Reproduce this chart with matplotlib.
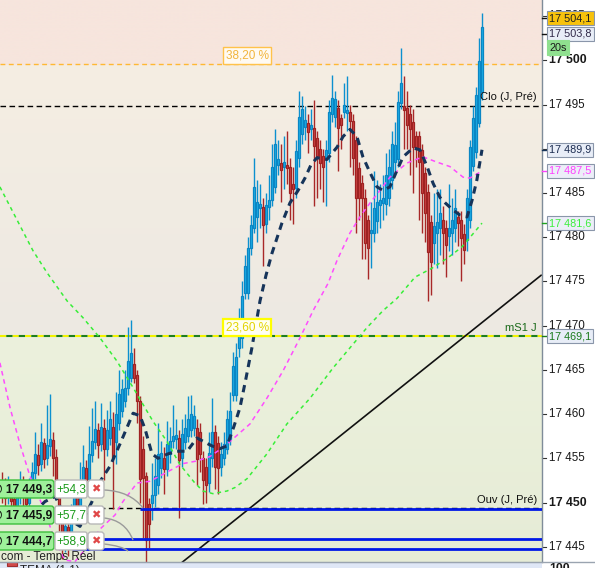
import numpy as np
import matplotlib
matplotlib.use("Agg")
import matplotlib.pyplot as plt
import matplotlib.transforms as mtransforms
from matplotlib.patches import FancyBboxPatch, Rectangle, PathPatch
from matplotlib.path import Path

plt.rcParams['font.family'] = ['Liberation Sans', 'DejaVu Sans']

# ---- candles (20s bars), index 0..160 ----
opens = [
    17452.4, 17451.8, 17450.6, 17451.9, 17450.4, 17449.1, 17450.7, 17452.1, 17451.0, 17449.9,
    17451.5, 17453.3, 17455.4, 17454.3, 17456.7, 17455.0, 17456.4, 17457.1, 17455.1, 17451.9,
    17448.1, 17445.3, 17447.2, 17445.7, 17448.5, 17450.8, 17449.6, 17452.3, 17453.9, 17452.7,
    17455.4, 17456.9, 17458.2, 17456.6, 17458.4, 17456.1, 17457.3, 17458.5, 17456.9, 17459.0,
    17460.3, 17461.5, 17463.0, 17464.1, 17465.7, 17464.4, 17461.5, 17456.0, 17453.0, 17449.8,
    17449.9, 17450.8, 17452.0, 17453.9, 17455.0, 17453.8, 17455.5, 17457.0, 17457.2, 17457.3,
    17455.0, 17456.9, 17457.5, 17458.2, 17458.4, 17458.4, 17458.0, 17455.0, 17454.0, 17452.2,
    17455.0, 17458.0, 17456.7, 17454.0, 17455.0, 17456.1, 17457.2, 17462.2, 17462.2, 17467.5,
    17468.6, 17473.7, 17473.7, 17478.8, 17481.1, 17482.3, 17483.3, 17483.4, 17481.5, 17483.4,
    17484.2, 17485.7, 17488.2, 17488.4, 17487.9, 17488.2, 17487.9, 17486.0, 17485.6, 17489.0,
    17491.7, 17492.5, 17492.9, 17492.2, 17492.4, 17491.2, 17490.0, 17489.2, 17489.0, 17489.5,
    17493.9, 17493.6, 17494.6, 17493.5, 17494.2, 17494.1, 17494.2, 17493.1, 17491.0, 17487.8,
    17486.1, 17484.5, 17481.9, 17480.5, 17480.5, 17481.8, 17483.7, 17483.9, 17483.8, 17484.4,
    17486.5, 17488.5, 17488.8, 17495.2, 17494.8, 17494.6, 17493.9, 17493.0, 17491.4, 17491.4,
    17489.9, 17487.3, 17485.1, 17481.7, 17479.4, 17480.5, 17481.0, 17481.9, 17481.1, 17480.2,
    17480.5, 17481.1, 17482.3, 17481.9, 17480.4, 17479.7, 17481.9, 17488.1, 17489.7, 17492.9,
    17496.4]
highs = [
    17453.5, 17452.8, 17453.0, 17452.5, 17451.2, 17452.0, 17453.6, 17453.0, 17451.9, 17452.8,
    17454.6, 17458.0, 17456.6, 17459.0, 17457.3, 17461.0, 17462.3, 17458.0, 17456.0, 17452.6,
    17449.0, 17448.3, 17448.0, 17449.8, 17452.2, 17451.6, 17454.6, 17456.5, 17454.8, 17458.6,
    17460.7, 17461.5, 17459.0, 17461.3, 17459.5, 17460.5, 17461.5, 17460.2, 17462.5, 17465.0,
    17464.0, 17465.0, 17469.8, 17470.6, 17467.5, 17465.0, 17462.0, 17457.5, 17453.5, 17450.5,
    17454.5, 17455.0, 17459.0, 17457.0, 17456.3, 17459.2, 17458.5, 17461.0, 17459.5, 17458.2,
    17459.5, 17460.0, 17462.0, 17462.2, 17461.0, 17459.5, 17459.0, 17455.8, 17455.0, 17458.0,
    17461.8, 17458.8, 17457.5, 17456.8, 17458.0, 17460.5, 17462.5, 17467.0, 17468.0, 17472.0,
    17475.0, 17478.0, 17480.0, 17482.5, 17489.0, 17486.5, 17486.0, 17484.5, 17485.0, 17487.0,
    17490.5, 17492.2, 17491.0, 17490.5, 17491.5, 17492.0, 17489.0, 17488.0, 17491.0, 17496.5,
    17496.0, 17494.8, 17494.0, 17494.5, 17495.5, 17492.0, 17491.0, 17490.0, 17491.0, 17495.5,
    17498.4, 17496.5, 17495.5, 17494.0, 17497.4, 17498.2, 17495.0, 17494.0, 17491.5, 17488.5,
    17487.0, 17485.5, 17482.5, 17484.0, 17487.5, 17486.5, 17486.0, 17487.0, 17489.5, 17490.0,
    17492.0, 17493.0, 17496.5, 17501.4, 17498.2, 17496.5, 17495.0, 17494.5, 17492.0, 17492.0,
    17490.5, 17488.0, 17486.0, 17482.5, 17485.0, 17485.5, 17485.5, 17483.5, 17482.0, 17486.0,
    17484.5, 17485.5, 17483.0, 17483.0, 17481.5, 17485.5, 17491.0, 17494.8, 17497.0, 17502.5,
    17505.4]
lows = [
    17450.0, 17449.2, 17449.8, 17448.9, 17447.8, 17448.2, 17449.8, 17449.5, 17448.3, 17449.0,
    17450.8, 17452.7, 17453.1, 17453.6, 17453.9, 17454.2, 17455.3, 17453.0, 17450.5, 17446.8,
    17443.6, 17444.4, 17444.0, 17445.0, 17447.7, 17448.0, 17449.0, 17451.4, 17451.0, 17452.0,
    17454.6, 17456.0, 17455.0, 17455.8, 17452.5, 17455.3, 17456.5, 17449.3, 17454.3, 17458.2,
    17459.7, 17460.8, 17462.2, 17463.6, 17463.5, 17459.0, 17450.0, 17446.0, 17443.3, 17444.8,
    17448.0, 17449.5, 17451.0, 17452.8, 17451.0, 17453.0, 17454.5, 17456.2, 17456.0, 17448.2,
    17454.0, 17456.0, 17456.8, 17457.4, 17457.5, 17452.0, 17453.5, 17449.8, 17450.0, 17451.2,
    17454.0, 17451.5, 17451.0, 17453.0, 17454.2, 17455.5, 17456.5, 17461.5, 17461.5, 17466.5,
    17467.5, 17473.0, 17473.0, 17478.0, 17480.5, 17479.5, 17481.0, 17476.8, 17480.5, 17482.0,
    17483.5, 17485.0, 17487.0, 17484.0, 17485.5, 17486.0, 17482.0, 17481.5, 17484.5, 17488.0,
    17490.5, 17491.0, 17489.5, 17491.0, 17483.5, 17484.5, 17485.5, 17484.0, 17483.5, 17488.5,
    17493.0, 17492.5, 17487.5, 17490.0, 17493.5, 17492.0, 17488.0, 17487.0, 17480.5, 17482.0,
    17477.5, 17477.5, 17475.3, 17476.5, 17479.5, 17480.5, 17481.1, 17482.0, 17482.5, 17483.5,
    17485.5, 17487.5, 17488.0, 17494.5, 17490.0, 17490.0, 17487.0, 17485.0, 17488.0, 17482.0,
    17480.5, 17479.5, 17472.8, 17473.5, 17477.0, 17476.5, 17478.0, 17477.0, 17475.5, 17478.5,
    17478.0, 17479.5, 17479.0, 17475.1, 17477.0, 17478.5, 17481.0, 17487.5, 17489.0, 17492.5,
    17495.5]
closes = [
    17451.5, 17450.5, 17451.9, 17450.2, 17449.0, 17450.8, 17452.2, 17450.9, 17449.8, 17451.6,
    17453.4, 17455.5, 17454.2, 17456.8, 17454.9, 17456.5, 17457.2, 17455.0, 17451.8, 17448.0,
    17445.2, 17447.3, 17445.6, 17448.6, 17450.9, 17449.5, 17452.4, 17454.0, 17452.6, 17455.5,
    17457.0, 17458.3, 17456.5, 17458.5, 17456.0, 17458.2, 17459.5, 17455.0, 17460.0, 17462.3,
    17462.8, 17463.0, 17466.0, 17466.9, 17464.1, 17461.5, 17452.7, 17452.8, 17445.8, 17447.6,
    17450.8, 17453.0, 17455.5, 17455.6, 17453.8, 17456.6, 17457.0, 17457.5, 17457.6, 17454.8,
    17457.8, 17458.4, 17459.5, 17460.0, 17459.8, 17454.9, 17455.5, 17452.5, 17452.0, 17455.6,
    17458.0, 17454.0, 17453.9, 17455.5, 17456.6, 17459.4, 17460.3, 17465.4, 17466.5, 17470.6,
    17473.4, 17476.8, 17478.8, 17481.4, 17485.7, 17484.0, 17483.8, 17481.4, 17483.6, 17484.2,
    17488.0, 17490.5, 17488.8, 17487.6, 17488.5, 17487.8, 17485.0, 17485.5, 17489.8, 17493.6,
    17494.5, 17493.3, 17491.9, 17492.7, 17490.3, 17489.2, 17488.4, 17487.9, 17489.9, 17494.2,
    17495.8, 17495.6, 17492.4, 17492.7, 17495.0, 17494.4, 17493.1, 17489.0, 17484.5, 17484.4,
    17484.4, 17479.4, 17478.8, 17480.8, 17483.3, 17484.0, 17484.2, 17484.4, 17487.0, 17488.0,
    17490.6, 17490.4, 17495.3, 17497.5, 17494.4, 17492.7, 17492.2, 17490.2, 17490.2, 17488.5,
    17485.0, 17482.8, 17478.3, 17477.2, 17481.3, 17481.7, 17482.7, 17480.5, 17479.1, 17481.0,
    17481.9, 17483.3, 17481.6, 17479.9, 17478.6, 17484.4, 17490.2, 17493.5, 17496.1, 17499.9,
    17503.8]

# ---- indicator lines (bar index, price) ----
tema_x = [-0.7, 4.3, 9.3, 14.3, 17.7, 21.0, 26.0, 30.0, 32.7, 36.0, 39.3, 43.7, 46.0, 47.7, 50.0,
          52.0, 55.3, 58.3, 61.7, 65.0, 67.7, 70.0, 72.7, 75.0, 77.3, 79.3, 81.3, 83.3, 86.0, 88.0,
          90.0, 93.3, 96.0, 98.7, 101.0, 103.0, 105.0, 108.3, 111.7, 113.7, 116.0, 118.3, 120.3,
          122.7, 125.0, 127.0, 129.3, 131.7, 133.7, 137.0, 139.3, 141.7, 143.7, 146.0, 147.7,
          150.3, 152.7, 155.0, 156.7, 158.3, 160.0]
tema_y = [17449.0, 17447.8, 17448.4, 17450.1, 17450.7, 17448.4, 17447.3, 17450.1, 17452.4, 17454.1,
          17456.6, 17460.1, 17459.8, 17458.3, 17455.5, 17455.0, 17455.5, 17455.8, 17455.8, 17457.3,
          17456.8, 17456.4, 17456.1, 17456.4, 17458.6, 17460.7, 17464.0, 17467.5, 17472.8, 17475.7,
          17478.2, 17481.6, 17483.9, 17485.3, 17486.7, 17488.2, 17489.0, 17488.8, 17490.2, 17491.4,
          17492.2, 17491.4, 17489.1, 17487.3, 17485.7, 17485.3, 17485.7, 17487.6, 17489.1, 17490.1,
          17489.9, 17488.0, 17486.1, 17484.5, 17483.9, 17483.1, 17482.5, 17482.3, 17484.2, 17486.5,
          17489.9]
ma_pink_x = [-0.7, 2.7, 6.0, 9.3, 14.3, 17.7, 21.0, 24.3, 27.7, 32.7, 37.7, 40.3, 45.0, 49.3, 53.7,
             60.3, 65.0, 69.3, 72.7, 76.0, 82.7, 88.3, 93.7, 99.3, 103.7, 108.7, 111.7, 116.0,
             119.3, 122.7, 126.0, 129.3, 135.0, 140.3, 145.0, 149.3, 153.7, 156.0, 160.0]
ma_pink_y = [17465.8, 17460.7, 17456.6, 17453.0, 17449.0, 17445.6, 17443.5, 17443.3, 17444.7, 17447.0,
             17448.6, 17450.1, 17452.2, 17452.4, 17453.2, 17454.4, 17454.7, 17455.2, 17456.0, 17456.9,
             17458.9, 17461.8, 17464.9, 17468.6, 17471.7, 17474.8, 17477.4, 17480.5, 17482.3, 17483.9,
             17485.3, 17486.8, 17488.4, 17489.1, 17488.5, 17488.0, 17486.8, 17486.7, 17487.5]
ma_green_x = [-0.7, 10.3, 15.0, 21.7, 27.0, 32.7, 38.3, 43.7, 50.3, 55.0, 59.3, 64.3, 67.0, 70.3, 75.0,
              77.7, 81.7, 88.3, 95.0, 102.7, 110.3, 116.0, 121.7, 127.0, 131.7, 137.7, 143.3, 148.7,
              153.3, 160.0]
ma_green_y = [17485.7, 17478.5, 17476.0, 17472.8, 17470.9, 17468.6, 17466.0, 17463.0, 17459.2, 17456.9,
              17454.3, 17452.2, 17451.3, 17451.0, 17451.3, 17451.7, 17452.7, 17455.5, 17458.9, 17461.8,
              17465.2, 17467.5, 17469.8, 17471.7, 17473.1, 17475.5, 17476.5, 17477.7, 17478.9, 17481.6]
trend_x = [57.7, 179.7]
trend_y = [17442.6, 17475.7]

# ---- levels ----
fib382 = 17499.55
clo_prev = 17494.9
fib236 = 17468.8
ouv_prev = 17449.4
orders = [17449.3, 17445.9, 17444.7]
order_labels = ["@ 17 449,3", "@ 17 445,9", "@ 17 444,7"]
order_gains = ["+54,3", "+57,7", "+58,9"]
order_start = [46.0, 33.7, 23.3]

ticks = [17445, 17450, 17455, 17460, 17465, 17470, 17475, 17480, 17485, 17490, 17495, 17500, 17505]
bold_ticks = [17450, 17500]

W, H = 595, 568
PR, PB = 542, 562
fig = plt.figure(figsize=(W / 100, H / 100), dpi=100)
fig.patch.set_facecolor('white')
ax = fig.add_axes([0, (H - PB) / H, PR / W, PB / H])
x0, x1 = -2 / 3, (PR - 2) / 3
ymin, ymax = 17443.27, 17506.84

# background zones
ys = np.linspace(ymax, ymin, 700)
img = np.zeros((len(ys), 1, 3))
top_c = np.array([247, 229, 221]) / 255
mid_a, mid_b = np.array([245, 238, 227]) / 255, np.array([237, 233, 226]) / 255
low_a, low_b = np.array([236, 241, 221]) / 255, np.array([230, 236, 214]) / 255
for k, p in enumerate(ys):
    if p >= fib382:
        img[k, 0] = top_c
    elif p >= fib236:
        t = (fib382 - p) / (fib382 - fib236)
        img[k, 0] = mid_a * (1 - t) + mid_b * t
    else:
        t = (fib236 - p) / (fib236 - ymin)
        img[k, 0] = low_a * (1 - t) + low_b * t
ax.imshow(img, extent=[x0, x1, ymin, ymax], aspect='auto', zorder=0, interpolation='bilinear')
ax.set_xlim(x0, x1)
ax.set_ylim(ymin, ymax)

# level lines
ax.axhline(fib382, color='#ffb833', lw=1, ls=(0, (3.5, 2.5)), zorder=1)
ax.axhline(clo_prev, color='black', lw=1, ls=(0, (4, 2.5)), zorder=1)
ax.axhline(fib236, color='#f2f200', lw=1.5, ls=(0, (3, 3)), zorder=1)
ax.axhline(fib236, color='#1f7f1f', lw=1.5, ls=(3, (3, 3)), zorder=1)
ax.axhline(ouv_prev, color='black', lw=1, ls=(0, (4, 2.5)), zorder=1)
ax.plot(trend_x, trend_y, color='#111111', lw=1.2, zorder=2)

# candles
idx = np.arange(len(closes))
o, h, l, c = map(np.array, (opens, highs, lows, closes))
up = c >= o
ax.vlines(idx[up], l[up], h[up], color='#0c90cf', lw=1, zorder=3)
ax.vlines(idx[~up], l[~up], h[~up], color='#a82828', lw=1, zorder=3)
body_lo = np.minimum(o, c)
body_h = np.maximum(np.abs(c - o), 0.2)
ax.bar(idx[up], body_h[up], bottom=body_lo[up], width=0.8, color='#1eb0e8',
       edgecolor='#0a86c4', lw=0.9, zorder=3.5)
ax.bar(idx[~up], body_h[~up], bottom=body_lo[~up], width=0.8, color='#cf4646',
       edgecolor='#9e2222', lw=0.9, zorder=3.5)

# indicators
ax.plot(ma_green_x, ma_green_y, color='#38ee38', lw=1.1, ls=(0, (2.5, 2.5)), zorder=4)
ax.plot(ma_pink_x, ma_pink_y, color='#ff4cff', lw=1.1, ls=(0, (3, 2.5)), zorder=4)
ax.plot(tema_x, tema_y, color='#16345a', lw=2.2, ls=(0, (2.4, 1.8)), zorder=4.5)

# order lines
for p, s in zip(orders, order_start):
    ax.hlines(p, s, x1, color='#0018e6', lw=2, zorder=5)

# in-chart level labels
ax.text(81.7, fib382 + 0.35, "38,20 %", ha='center', va='bottom', fontsize=8.5, color='#f2b53c',
        bbox=dict(boxstyle='square,pad=0.22', fc='#fffaf2', ec='#ffc24a', lw=1), zorder=6)
ax.text(81.7, fib236 + 0.35, "23,60 %", ha='center', va='bottom', fontsize=8.5, color='#e2d400',
        bbox=dict(boxstyle='square,pad=0.22', fc='#fffff2', ec='#ffff00', lw=1.6), zorder=6)
ax.text(178.3, clo_prev + 0.35, "Clo (J, Pré)", ha='right', va='bottom', fontsize=8, color='#111111', zorder=6)
ax.text(178.3, fib236 + 0.35, "mS1 J", ha='right', va='bottom', fontsize=8, color='#1a6a1a', zorder=6)
ax.text(178.3, ouv_prev + 0.35, "Ouv (J, Pré)", ha='right', va='bottom', fontsize=8, color='#111111', zorder=6)

# right price axis
ax.set_xticks([])
ax.set_yticks([])
for side in ['top', 'left', 'bottom']:
    ax.spines[side].set_visible(False)
ax.spines['right'].set_color('#7f8c99')
ax.spines['right'].set_linewidth(1)
blend = mtransforms.blended_transform_factory(ax.transAxes, ax.transData)
ax_px = 1.0 / PR
for t in ticks:
    ax.plot([1.0, 1.0 + 4 * ax_px], [t, t], transform=blend, clip_on=False, color='#333333', lw=0.8)
    ax.text(1.0 + 7 * ax_px, t, f"{t // 1000} {t % 1000:03d}", transform=blend, ha='left', va='center',
            fontsize=8.8 if t in bold_ticks else 8.4,
            fontweight='bold' if t in bold_ticks else 'normal', color='#1a1a1a', clip_on=False)

# price tags on axis: (text, position price, face, text colour, tick colour)
tags = [
    ("17 504,1", 17504.8, '#f7c20c', '#202020', '#111111'),
    ("17 503,8", 17503.0, '#e8edf7', '#302848', '#111111'),
    ("17 489,9", 17489.9, '#e8edf7', '#1c2c50', '#16345a'),
    ("17 487,5", 17487.5, '#eceef8', '#ff40ff', '#ff40ff'),
    ("17 481,6", 17481.6, '#eceef8', '#3cf03c', '#1fa01f'),
    ("17 469,1", 17468.8, '#e8edf7', '#1a7a1a', '#1a7a1a'),
]
for txt, p, fc, tc, kc in tags:
    ax.plot([1.0, 1.0 + 5 * ax_px], [p, p], transform=blend, clip_on=False, color=kc, lw=1, zorder=6)
    ax.text(1.0 + 7 * ax_px, p, txt, transform=blend, ha='left', va='center', fontsize=7.8, color=tc,
            clip_on=False, zorder=7,
            bbox=dict(boxstyle='square,pad=0.2', fc=fc, ec='#8a96aa', lw=0.8))
ax.text(1.0 + 7 * ax_px, 17501.45, "20s", transform=blend, ha='left', va='center', fontsize=7.8,
        color='#1a1a1a', clip_on=False, zorder=7,
        bbox=dict(boxstyle='square,pad=0.2', fc='#8fe08f', ec='#8fe08f', lw=0.8))

# bottom indicator strip
axb = fig.add_axes([0, 0, PR / W, (H - PB) / H])
axb.set_facecolor('#dfe7f6')
axb.set_xticks([])
axb.set_yticks([])
for side in ['left', 'right', 'bottom']:
    axb.spines[side].set_visible(False)
axb.spines['top'].set_color('#9aa4b0')
axb.add_patch(Rectangle((7 / PR, 0.4), 10 / PR, 1.0, transform=axb.transAxes, fc='#d24a4a', ec='#a03030', lw=0.8))
axb.text(20 / PR, 0.45, "TEMA (1,1)", transform=axb.transAxes, ha='left', va='top', fontsize=8.5, color='#222222')

# overlay in pixel coordinates for the order tickets
ov = fig.add_axes([0, 0, 1, 1])
ov.set_xlim(0, W)
ov.set_ylim(H, 0)
ov.axis('off')
ov.patch.set_alpha(0)
ov.plot([0, W], [PB, PB], color='#9aa4b0', lw=1)
ov.text(549, PB + 1, "100", ha='left', va='top', fontsize=8.8, fontweight='bold', color='#1a1a1a')

ticket_top = [480, 506, 532]
arcs = [((104, 490), (130, 491), (143, 508)),
        ((104, 518), (125, 520), (133, 540)),
        ((104, 544), (122, 546), (128, 551))]
for k in range(3):
    top = ticket_top[k]
    ov.add_patch(FancyBboxPatch((-8, top), 62, 18, boxstyle='round,pad=0,rounding_size=3',
                                fc='#9ef09a', ec='#3cbf3c', lw=1, zorder=3))
    ov.add_patch(FancyBboxPatch((55, top), 32, 18, boxstyle='round,pad=0,rounding_size=2',
                                fc='white', ec='#b8b8b8', lw=1, zorder=3))
    ov.add_patch(FancyBboxPatch((88, top), 16, 18, boxstyle='round,pad=0,rounding_size=3',
                                fc='white', ec='#b8b8b8', lw=1, zorder=3))
    ov.text(52, top + 9.5, order_labels[k], ha='right', va='center', fontsize=8.6, fontweight='bold',
            color='#111111', zorder=4)
    ov.text(71, top + 9.5, order_gains[k], ha='center', va='center', fontsize=8.6, color='#1a9a1a', zorder=4)
    ov.text(96, top + 9.5, "\u2716", ha='center', va='center', fontsize=8, color='#e04848',
            family='DejaVu Sans', zorder=4)
    a, b, e = arcs[k]
    ov.add_patch(PathPatch(Path([a, b, e], [Path.MOVETO, Path.CURVE3, Path.CURVE3]),
                           fc='none', ec='#9a9a9a', lw=1, zorder=2))
ov.text(1, 557, "com - Temps R\u00e9el", ha='left', va='center', fontsize=8.5, color='#222222', zorder=4)

fig.savefig("out.png", dpi=100)
